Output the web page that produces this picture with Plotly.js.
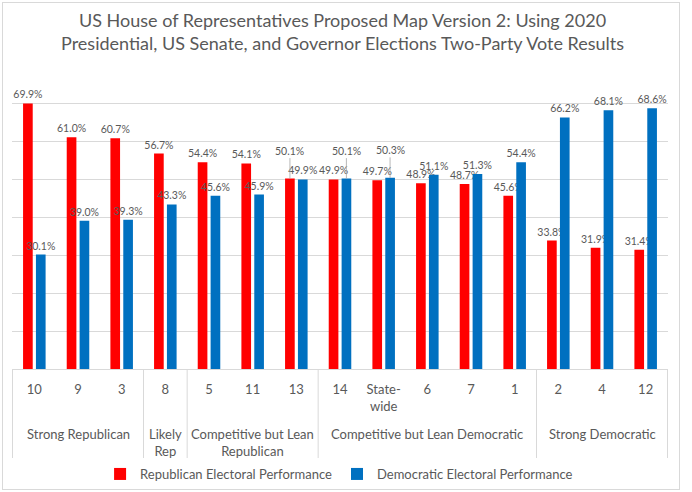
<!DOCTYPE html>
<html>
<head>
<meta charset="utf-8">
<script src="https://cdn.plot.ly/plotly-3.0.1.min.js"></script>
<style>
  html, body { margin: 0; padding: 0; background: #fff; }
  #wrap { position: relative; width: 692px; height: 492px; }
  #chart { width: 692px; height: 492px; }
  #frame { position: absolute; left: 2px; top: 2px; width: 676px; height: 486px;
           border: 1px solid #d9d9d9; pointer-events: none; }
</style>
</head>
<body>
<div id="wrap"><div id="chart"></div><div id="frame"></div></div>
<script>
// ---- data ----
const categories = ['10', '9', '3', '8', '5', '11', '13', '14', 'State-<br>wide', '6', '7', '1', '2', '4', '12'];
const groups = ['Strong Republican', 'Likely<br>Rep', 'Competitive but Lean<br>Republican', 'Competitive but Lean Democratic', 'Strong Democratic'];
const groupSizes = [3, 1, 3, 5, 3];
const repValues = [69.9, 61.0, 60.7, 56.7, 54.4, 54.1, 50.1, 49.9, 49.7, 48.9, 48.7, 45.6, 33.8, 31.9, 31.4];
const demValues = [30.1, 39.0, 39.3, 43.3, 45.6, 45.9, 49.9, 50.1, 50.3, 51.1, 51.3, 54.4, 66.2, 68.1, 68.6];
const repName = 'Republican Electoral Performance';
const demName = 'Democratic Electoral Performance';
// labels that were lifted with a leader line in the original
const raisedRep = ['13'];
const raisedDem = ['14', 'State-<br>wide'];

// ---- build ----
const fmt = v => v.toFixed(1) + '%';
const repText = repValues.map((v, i) => raisedRep.includes(categories[i]) ? '' : fmt(v));
const demText = demValues.map((v, i) => raisedDem.includes(categories[i]) ? '' : fmt(v));

const grey = '#595959';
const lineGrey = '#d9d9d9';
const font = 'Lato, "Open Sans", sans-serif';

const traces = [
  { type: 'bar', name: repName, x: categories, y: repValues, marker: { color: '#FF0000' },
    text: repText, texttemplate: '%{text}', textposition: 'outside', constraintext: 'none',
    cliponaxis: false, textfont: { family: font, size: 10.5, color: grey }, hoverinfo: 'skip' },
  { type: 'bar', name: demName, x: categories, y: demValues, marker: { color: '#0070C0' },
    text: demText, texttemplate: '%{text}', textposition: 'outside', constraintext: 'none',
    cliponaxis: false, textfont: { family: font, size: 10.5, color: grey }, hoverinfo: 'skip' }
];

const annotations = [];
categories.forEach((c, i) => {
  const mk = (val, shift) => ({
    x: i, y: val, xref: 'x', yref: 'y', text: fmt(val), xshift: shift,
    showarrow: true, arrowhead: 0, arrowwidth: 0.8, arrowcolor: '#a6a6a6', ax: 0, ay: -28,
    font: { family: font, size: 10.5, color: grey }
  });
  if (raisedRep.includes(c)) annotations.push(mk(repValues[i], -6.4));
  if (raisedDem.includes(c)) annotations.push(mk(demValues[i], 6.4));
});

// group labels and dividers of the two-level category axis
const plotH = 492 - 65 - 123;
const shapes = [];
let start = 0;
const addDivider = b => shapes.push({
  type: 'line', xref: 'x', yref: 'paper', x0: b - 0.5, x1: b - 0.5,
  y0: 0, y1: -89 / plotH, line: { color: lineGrey, width: 1 }
});
addDivider(0);
groups.forEach((g, gi) => {
  const n = groupSizes[gi];
  annotations.push({
    x: start + (n - 1) / 2, xref: 'x', y: -55 / plotH, yref: 'paper', yanchor: 'top',
    text: g, showarrow: false, font: { family: font, size: 13, color: grey }
  });
  start += n;
  addDivider(start);
});

const layout = {
  width: 692, height: 492,
  paper_bgcolor: '#fff', plot_bgcolor: '#fff',
  margin: { l: 12, r: 24, t: 65, b: 123 },
  font: { family: font, color: grey },
  title: {
    text: 'US House of Representatives Proposed Map Version 2: Using 2020<br>Presidential, US Senate, and Governor Elections Two-Party Vote Results',
    font: { family: font, size: 18, color: grey },
    x: 0.495, xanchor: 'center', xref: 'container',
    y: 0.946, yanchor: 'top', yref: 'container'
  },
  barmode: 'group', bargap: 0.41, bargroupgap: 0.25,
  showlegend: true,
  legend: { orientation: 'h', x: 0.49, xanchor: 'center', xref: 'container',
            y: 1 - 474 / 492, yanchor: 'middle', yref: 'container',
            font: { family: font, size: 13, color: grey }, traceorder: 'normal',
            itemwidth: 30 },
  xaxis: {
    type: 'category', showline: true, linecolor: lineGrey, linewidth: 1,
    tickfont: { family: font, size: 13, color: grey }, ticks: '', showgrid: false,
    ticklabelstandoff: 8
  },
  yaxis: {
    range: [0, 80], dtick: 10, showgrid: true, gridcolor: lineGrey, gridwidth: 1,
    showticklabels: false, zeroline: false, showline: false, ticks: ''
  },
  annotations: annotations,
  shapes: shapes
};

Plotly.newPlot('chart', traces, layout, { displayModeBar: false, staticPlot: true });
</script>
</body>
</html>
